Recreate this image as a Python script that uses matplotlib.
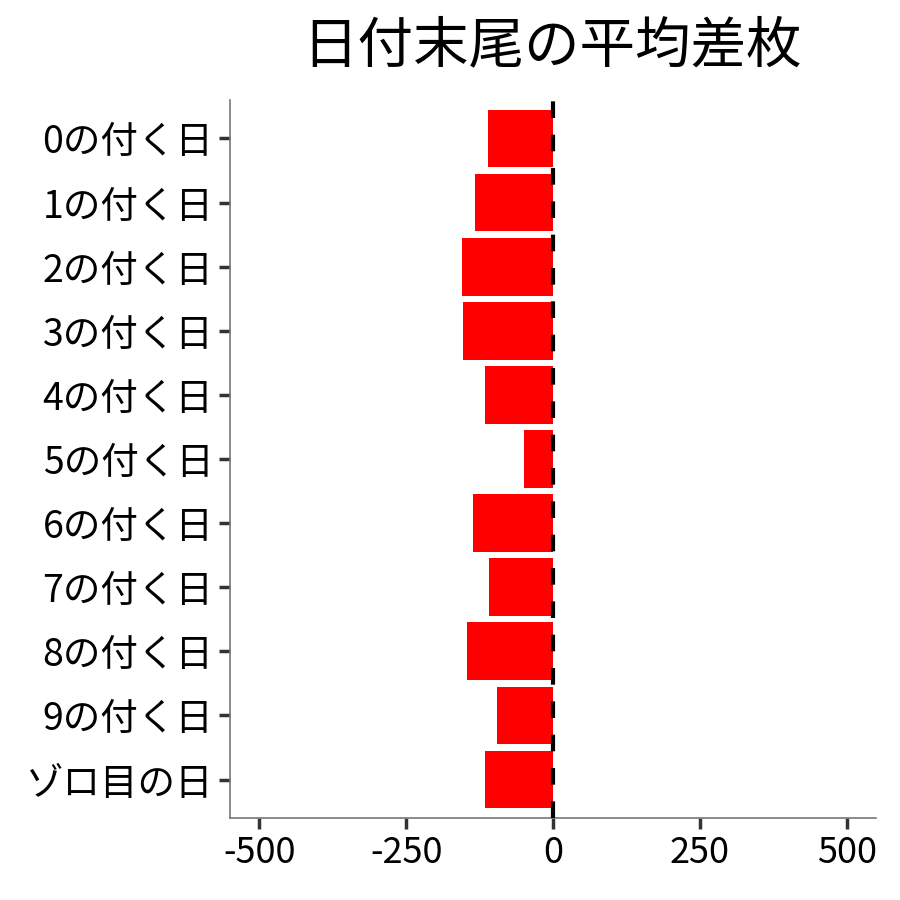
import matplotlib
matplotlib.use("Agg")
import matplotlib.pyplot as plt

plt.rcParams['font.family'] = ['Noto Sans CJK JP', 'DejaVu Sans']

# 日付末尾ごとの平均差枚
labels = ["0の付く日", "1の付く日", "2の付く日", "3の付く日", "4の付く日",
          "5の付く日", "6の付く日", "7の付く日", "8の付く日", "9の付く日", "ゾロ目の日"]
values = [-110, -133, -155, -153, -116, -49, -136, -109, -146, -95, -116]
xticks = [-500, -250, 0, 250, 500]

fig = plt.figure(figsize=(9, 9), dpi=100)
ax = fig.add_axes([0.2556, 0.0911, 0.7178, 0.7978])

ypos = list(range(len(labels)))
ax.barh(ypos, values, height=0.9, color="#ff0000", zorder=2)
ax.axvline(0, color="black", linestyle=(0, (4, 4)), linewidth=3, zorder=3)

ax.set_xlim(-550, 550)
ax.set_ylim(len(labels) - 0.4, -0.6)
ax.set_xticks(xticks)
ax.set_xticklabels([str(v) for v in xticks])
ax.set_yticks(ypos)
ax.set_yticklabels(labels)

for s in ["top", "right"]:
    ax.spines[s].set_visible(False)
for s in ["left", "bottom"]:
    ax.spines[s].set_color("#777777")
    ax.spines[s].set_linewidth(1.2)

ax.tick_params(axis="both", colors="#333333", labelcolor="black",
               length=8, width=2.5, pad=4)
ax.tick_params(axis="y", labelsize=27)
ax.tick_params(axis="x", labelsize=26)

fig.text(0.613, 0.948, "日付末尾の平均差枚", ha="center", va="center", fontsize=40)

fig.savefig("out.png", dpi=100)
